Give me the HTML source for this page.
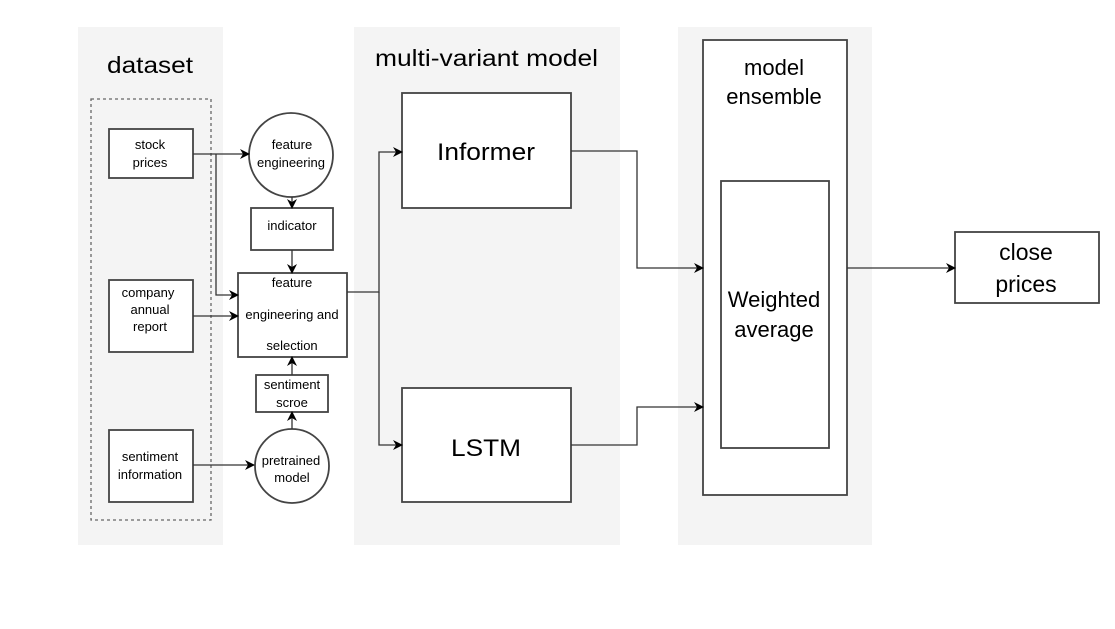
<!DOCTYPE html>
<html><head><style>body{margin:0;background:#fff}svg{display:block}text{font-family:"Liberation Sans",Arial,sans-serif;fill:#000}</style></head>
<body>
<svg width="1115" height="629" viewBox="0 0 1115 629" xmlns="http://www.w3.org/2000/svg">
<defs><marker id="a" markerWidth="10" markerHeight="10" refX="9" refY="5" orient="auto" markerUnits="userSpaceOnUse"><path d="M0,0 L10,5 L0,10 L3,5 z" fill="#000"/></marker></defs>
<rect x="78" y="27" width="145" height="518" fill="#f4f4f4"/>
<rect x="354" y="27" width="266" height="518" fill="#f4f4f4"/>
<rect x="678" y="27" width="194" height="518" fill="#f4f4f4"/>
<text x="107" y="73" font-size="23" textLength="86" lengthAdjust="spacingAndGlyphs">dataset</text>
<text x="375" y="66" font-size="23" textLength="223" lengthAdjust="spacingAndGlyphs">multi-variant model</text>
<rect x="91" y="99" width="120" height="421" fill="none" stroke="#666" stroke-width="1.3" stroke-dasharray="3,3"/>
<g fill="#fff" stroke="#444" stroke-width="1.8">
<rect x="109" y="129" width="84" height="49"/>
<rect x="109" y="280" width="84" height="72"/>
<rect x="109" y="430" width="84" height="72"/>
<circle cx="291" cy="155" r="42"/>
<rect x="251" y="208" width="82" height="42"/>
<rect x="238" y="273" width="109" height="84"/>
<rect x="256" y="375" width="72" height="37"/>
<circle cx="292" cy="466" r="37"/>
<rect x="402" y="93" width="169" height="115"/>
<rect x="402" y="388" width="169" height="114"/>
<rect x="703" y="40" width="144" height="455"/>
<rect x="721" y="181" width="108" height="267"/>
<rect x="955" y="232" width="144" height="71"/>
</g>
<g font-size="13" text-anchor="middle">
<text x="150" y="149">stock</text><text x="150" y="167">prices</text>
<text x="148" y="297">company</text><text x="150" y="314">annual</text><text x="150" y="331">report</text>
<text x="150" y="461">sentiment</text><text x="150" y="479">information</text>
<text x="292" y="149">feature</text><text x="291" y="167">engineering</text>
<text x="292" y="230">indicator</text>
<text x="292" y="287">feature</text><text x="292" y="319">engineering and</text><text x="292" y="350">selection</text>
<text x="292" y="389">sentiment</text><text x="292" y="407">scroe</text>
<text x="291" y="465">pretrained</text><text x="292" y="482">model</text>
</g>
<text x="437" y="160" font-size="24" textLength="98" lengthAdjust="spacingAndGlyphs">Informer</text>
<text x="451" y="456" font-size="24" textLength="70" lengthAdjust="spacingAndGlyphs">LSTM</text>
<text x="774" y="75" font-size="22" text-anchor="middle">model</text>
<text x="774" y="104" font-size="22" text-anchor="middle">ensemble</text>
<text x="774" y="307" font-size="22" text-anchor="middle">Weighted</text>
<text x="774" y="337" font-size="22" text-anchor="middle">average</text>
<text x="1026" y="260" font-size="23" text-anchor="middle">close</text>
<text x="1026" y="292" font-size="23" text-anchor="middle">prices</text>
<g fill="none" stroke="#333" stroke-width="1.3" marker-end="url(#a)">
<path d="M193,154 H249"/>
<path d="M216,154 V295 H238"/>
<path d="M193,316 H238"/>
<path d="M193,465 H254"/>
<path d="M292,197 V208"/>
<path d="M292,250 V273"/>
<path d="M292,375 V357"/>
<path d="M292,429 V412"/>
<path d="M347,292 H379 V152 H402"/>
<path d="M379,292 V445 H402"/>
<path d="M571,151 H637 V268 H703"/>
<path d="M571,445 H637 V407 H703"/>
<path d="M847,268 H955"/>
</g>
</svg>
</body></html>
